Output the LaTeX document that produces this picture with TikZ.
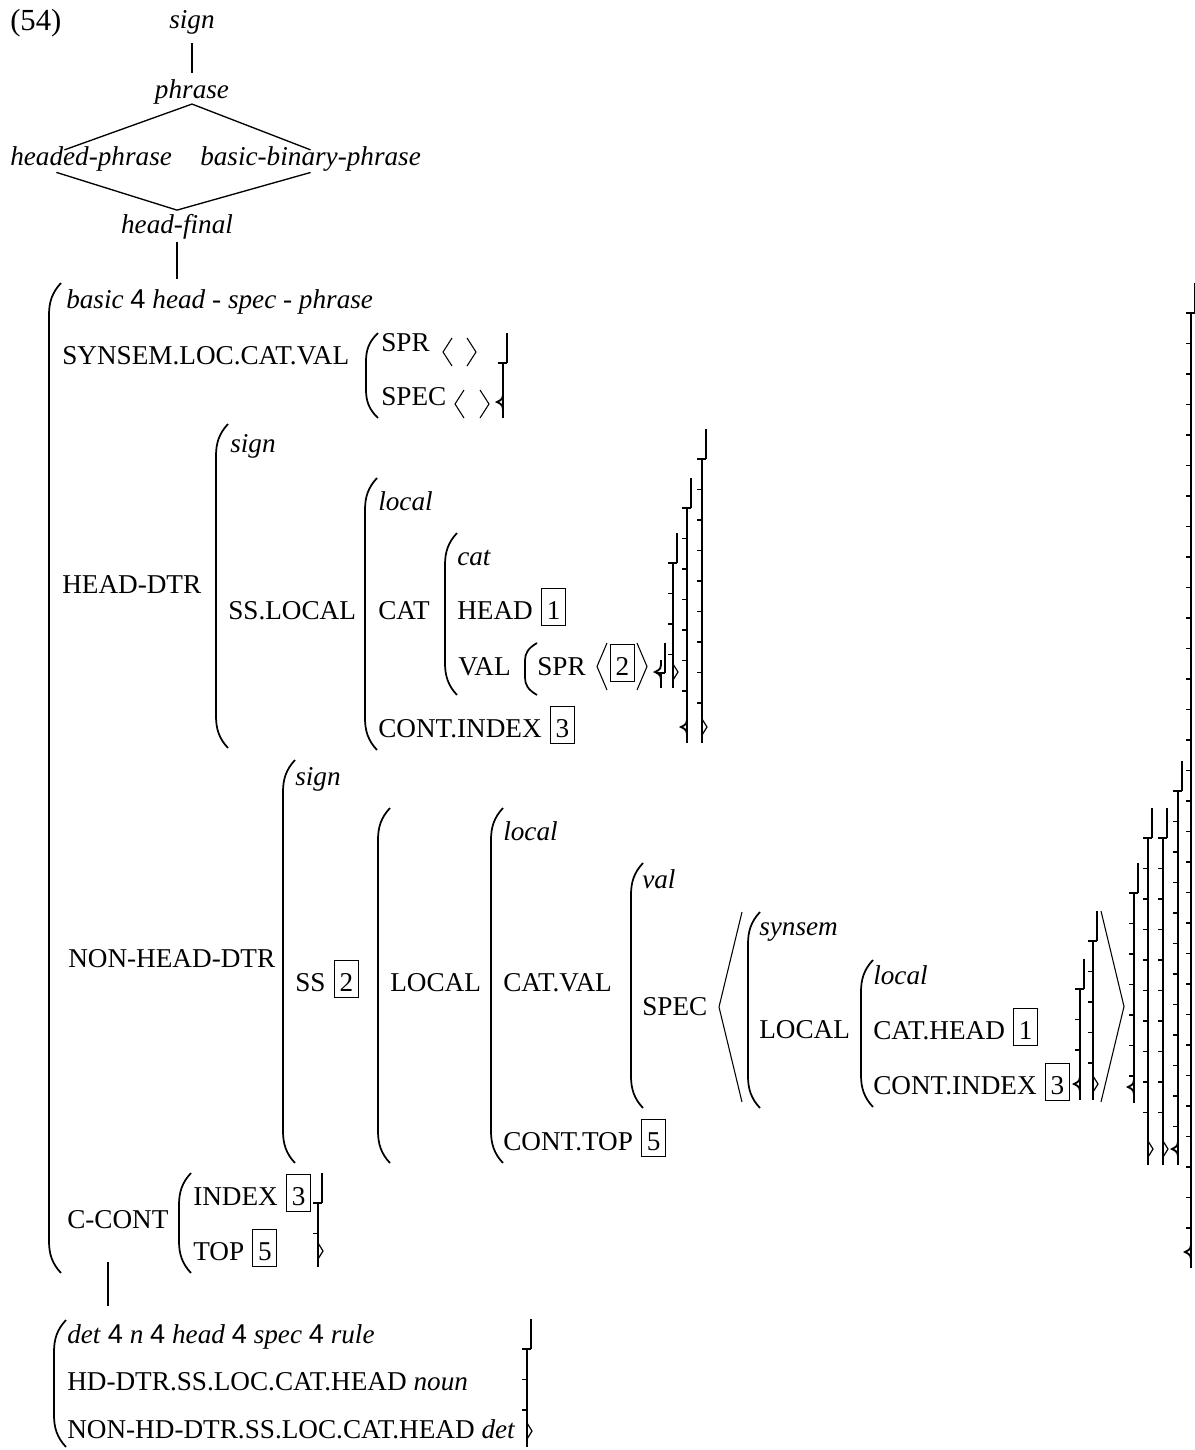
\documentclass[tikz,border=0pt]{standalone}
\usepackage{fontspec}
\setmainfont{Liberation Serif}
\newfontfamily\sansf{Liberation Sans}
\newcommand\fs{\fontsize{20.4}{24}\selectfont}
\newcommand\four{{\sansf 4}}
\tikzset{
 txt/.style={anchor=base west, inner sep=0pt, font=\fs},
 txc/.style={anchor=base, inner sep=0pt, font=\fs},
 tagbox/.style={draw, line width=0.8pt, inner sep=0pt, text height=23pt, text depth=5pt, minimum width=18pt, anchor=base west, font=\fs},
 conn/.style={line width=1pt},
 parline/.style={line width=1.3pt},
 brk/.style={line width=1.4pt},
 tk/.style={line width=0.9pt},
 ang/.style={line width=0.8pt},
}
% left parenthesis: x, ytop, ybot
\newcommand\mypar[3]{%
 \pgfmathsetmacro\cl{min(32,(#3-#2)/3)}%
 \draw[parline] ({#1+12},#2) .. controls ({#1+3},{#2+\cl*0.3}) and (#1,{#2+\cl*0.6}) .. (#1,{#2+\cl}) -- (#1,{#3-\cl}) .. controls (#1,{#3-\cl*0.6}) and ({#1+3},{#3-\cl*0.3}) .. ({#1+12},#3);}
% broken right bracket: x, ytop, ybot, type (0 = point right, 1 = curl left)
\newcommand\mybrk[4]{%
 \draw[brk] ({#1+4},#2) -- ({#1+4},{#2+30});
 \draw[tk] ({#1+4},{#2+30}) -- ({#1-5},{#2+30});
 \draw[brk] (#1,{#2+30}) -- (#1,#3);
 \pgfmathtruncatemacro\nt{(#3-#2-55)/30.5}%
 \ifnum\nt>0 \foreach \k in {1,...,\nt}{\draw[tk] ({#1-5},{#2+30+\k*30.5}) -- (#1,{#2+30+\k*30.5});}\fi
 \ifnum#4=0 \draw[tk] (#1,{#3-24}) -- ({#1+5},{#3-16}) -- (#1,{#3-8});%
 \else \draw[brk] (#1,{#3-28}) .. controls (#1,{#3-19}) .. ({#1-6},{#3-16}) .. controls (#1,{#3-13}) .. (#1,{#3-4});\fi}
% angle: tip x, open x, ytop, ybot
\newcommand\myang[4]{\draw[ang] (#2,#3) -- ({#1},{(#3+#4)/2}) -- (#2,#4);}
\begin{document}
\begin{tikzpicture}[x=0.75pt,y=-0.75pt]
\useasboundingbox (0,0) rectangle (1195,1450);
% ---------- type hierarchy ----------
\node[txt, font=\fontsize{23}{27}\selectfont] (ex) at (10,30) {(54)};
\node[txc] (s0) at (192,28) {\textit{sign}};
\node[txc] (ph) at (192,98) {\textit{phrase}};
\node[txt] (hp) at (10,165) {\textit{headed-phrase}};
\node[txt] (bbp) at (200,165) {\textit{basic-binary-phrase}};
\node[txc] (hf) at (177,233) {\textit{head-final}};
\draw[conn] ([yshift=-6.75pt]s0.south) -- ([yshift=4.5pt]ph.north);
\draw[conn] ([xshift=-20pt,yshift=-3pt]hp.north) -- (ph.south) -- ([yshift=-3pt]bbp.north);
\draw[conn] ([xshift=-26pt,yshift=-1pt]hp.south) -- ([yshift=2.6pt]hf.north) -- ([yshift=-1pt]bbp.south);
\coordinate (avmtop) at (177,279);
\draw[conn] ([yshift=-2pt]hf.south) -- (avmtop);
% ---------- main AVM ----------
\mypar{49}{283}{1273}
\mybrk{1191}{283}{1268}{1}
\node[txt] (r1) at (66,308) {\textit{basic} \four{} \textit{head} - \textit{spec} - \textit{phrase}};
\node[txt] (syn) at (62,364) {SYNSEM.LOC.CAT.VAL};
\mypar{366}{333}{418}
\node[txt] (spr0) at (381,351) {SPR};
\myang{443}{452}{338}{366}
\myang{476}{467}{338}{366}
\node[txt] (spec0) at (381,405) {SPEC};
\myang{455}{464}{390}{418}
\myang{489}{480}{390}{418}
\mybrk{503}{333}{418}{1}
% HEAD-DTR
\node[txt] (hd) at (62,593) {HEAD-DTR};
\mypar{216}{424}{748}
\node[txt] (hsign) at (230,452) {\textit{sign}};
\node[txt] (ssl) at (228,619) {SS.LOCAL};
\mypar{365}{478}{750}
\node[txt] (hloc) at (378,510) {\textit{local}};
\node[txt] (hcat) at (378,619) {CAT};
\mypar{445}{533}{695}
\node[txt] (hcatt) at (457,565) {\textit{cat}};
\node[txt] (hhead) at (457,619) {HEAD};
\node[tagbox] (hb1) at ([xshift=6pt]hhead.base east) {1};
\node[txt] (hval) at (458,675) {VAL};
\mypar{525}{643}{695}
\node[txt] (hspr) at (537,675) {SPR};
\myang{597}{607}{643}{690}
\node[tagbox] (hb2) at (610,675) {2};
\myang{647}{637}{643}{690}
\node[txt] (hci) at (378,737) {CONT.INDEX};
\node[tagbox] (hb3) at ([xshift=6pt]hci.base east) {3};
\mybrk{661}{643}{688}{1}
\mybrk{673}{533}{688}{0}
\mybrk{687}{478}{743}{1}
\mybrk{702}{429}{743}{0}
% NON-HEAD-DTR
\node[txt] (nhd) at (68,967) {NON-HEAD-DTR};
\mypar{283}{760}{1163}
\node[txt] (nsign) at (295,785) {\textit{sign}};
\node[txt] (nss) at (295,991) {SS};
\node[tagbox] (nb2) at ([xshift=6pt]nss.base east) {2};
\mypar{378}{808}{1163}
\node[txt] (nlocal) at (390,991) {LOCAL};
\mypar{491}{808}{1163}
\node[txt] (nloc) at (503,840) {\textit{local}};
\node[txt] (ncv) at (503,991) {CAT.VAL};
\mypar{631}{863}{1108}
\node[txt] (nval) at (642,888) {\textit{val}};
\node[txt] (nspec) at (642,1015) {SPEC};
\myang{719}{742}{912}{1102}
\mypar{748}{912}{1108}
\node[txt] (nsyn) at (759,935) {\textit{synsem}};
\node[txt] (nlocal2) at (759,1038) {LOCAL};
\mypar{861}{960}{1107}
\node[txt] (nloc2) at (873,984) {\textit{local}};
\node[txt] (nch) at (873,1039) {CAT.HEAD};
\node[tagbox] (nb1) at ([xshift=6pt]nch.base east) {1};
\node[txt] (nci) at (873,1094) {CONT.INDEX};
\node[tagbox] (nb3) at ([xshift=6pt]nci.base east) {3};
\mybrk{1080}{959}{1100}{1}
\mybrk{1093}{911}{1100}{0}
\myang{1124}{1101}{911}{1102}
\mybrk{1134}{863}{1103}{1}
\node[txt] (nct) at (503,1150) {CONT.TOP};
\node[tagbox] (nb5) at ([xshift=6pt]nct.base east) {5};
\mybrk{1148}{808}{1165}{0}
\mybrk{1163}{808}{1165}{0}
\mybrk{1178}{761}{1165}{1}
% C-CONT
\node[txt] (cc) at (67,1228) {C-CONT};
\mypar{179}{1173}{1273}
\node[txt] (cidx) at (193,1205) {INDEX};
\node[tagbox] (cb3) at ([xshift=6pt]cidx.base east) {3};
\node[txt] (ctop) at (193,1260) {TOP};
\node[tagbox] (cb5) at ([xshift=6pt]ctop.base east) {5};
\mybrk{318}{1173}{1267}{0}
% ---------- connector ----------
\coordinate (avmbot) at (108,1262);
\coordinate (dettop) at (108,1306);
\draw[conn] (avmbot) -- (dettop);
% ---------- bottom AVM ----------
\mypar{54}{1320}{1447}
\node[txt] (d1) at (67,1343) {\textit{det} \four{} \textit{n} \four{} \textit{head} \four{} \textit{spec} \four{} \textit{rule}};
\node[txt] (d2) at (67,1390) {HD-DTR.SS.LOC.CAT.HEAD \textit{noun}};
\node[txt] (d3) at (67,1438) {NON-HD-DTR.SS.LOC.CAT.HEAD \textit{det}};
\mybrk{527}{1319}{1447}{0}
\end{tikzpicture}
\end{document}
